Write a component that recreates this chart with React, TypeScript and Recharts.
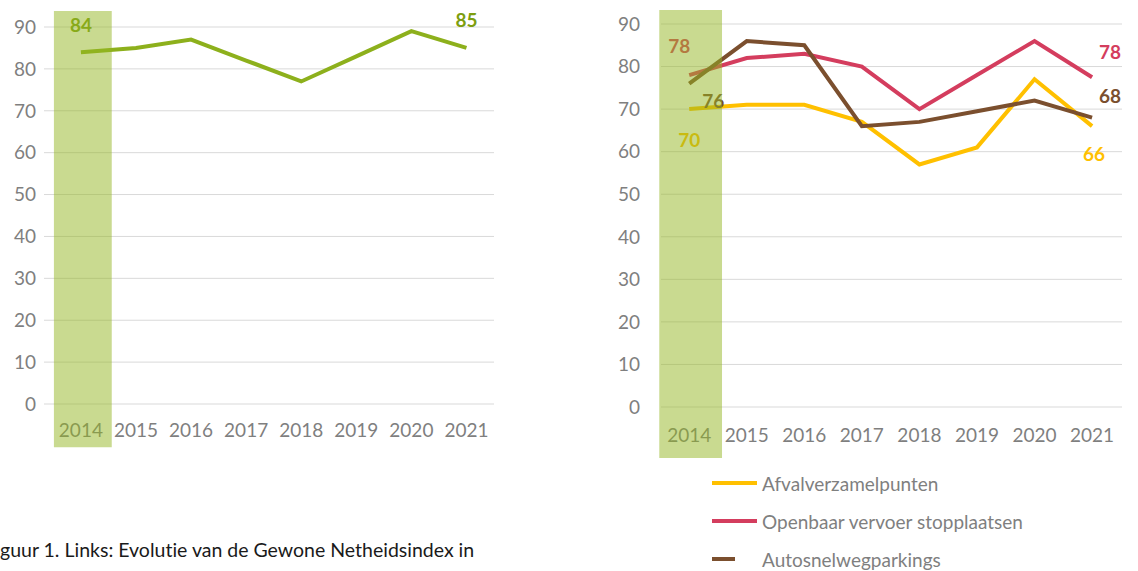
import React from "react";
import {
  LineChart,
  Line,
  XAxis,
  YAxis,
  CartesianGrid,
  ReferenceArea,
  LabelList,
  Legend,
} from "recharts";

// years on both charts
const years = [2014, 2015, 2016, 2017, 2018, 2019, 2020, 2021];
const yTicks = [0, 10, 20, 30, 40, 50, 60, 70, 80, 90];

// left: Gewone Netheidsindex
const netheidsindex = [84, 85, 87, 82, 77, 83, 89, 85];

// right: per locatietype
const afvalverzamelpunten = [70, 71, 71, 67, 57, 61, 77, 66];
const openbaarVervoer = [78, 82, 83, 80, 70, 78, 86, 77.5];
const autosnelwegparkings = [76, 86, 85, 66, 67, 69.5, 72, 68];

const highlightYear = 2014;

const leftData = years.map((year, i) => ({ year, index: netheidsindex[i] }));
const rightData = years.map((year, i) => ({
  year,
  afval: afvalverzamelpunten[i],
  ov: openbaarVervoer[i],
  parking: autosnelwegparkings[i],
}));

const FONT = "Lato, 'Open Sans', sans-serif";
const GRAY = "#7f7f7f";
const GRID = "#d9d9d9";
const HIGHLIGHT = "#93b521";

const colors = {
  green: "#8db01c",
  greenText: "#7d9e10",
  yellow: "#ffc000",
  red: "#d43d5e",
  brown: "#7b4f2e",
};

// only first and last point get a label; offsets (dx, dy) per end
const endLabel =
  (color: string, first: [number, number] | null, last: [number, number] | null) =>
  (props: any) => {
    const { x, y, value, index } = props;
    const off = index === 0 ? first : index === years.length - 1 ? last : null;
    if (!off) return null;
    return (
      <text
        x={x + off[0]}
        y={y + off[1]}
        textAnchor="middle"
        dominantBaseline="central"
        fill={color}
        fontFamily={FONT}
        fontWeight={700}
        fontSize={19}
      >
        {Math.round(value)}
      </text>
    );
  };

const tickStyle = { fontSize: 19, fill: GRAY, fontFamily: FONT };

const legendItems = [
  { name: "Afvalverzamelpunten", color: colors.yellow, w: 45, gap: 5 },
  { name: "Openbaar vervoer stopplaatsen", color: colors.red, w: 45, gap: 5 },
  { name: "Autosnelwegparkings", color: colors.brown, w: 23, gap: 27 },
];

function LegendBox() {
  return (
    <div style={{ fontFamily: FONT, fontSize: 19, color: GRAY }}>
      {legendItems.map((it) => (
        <div
          key={it.name}
          style={{ display: "flex", alignItems: "center", height: 38 }}
        >
          <span
            style={{
              display: "inline-block",
              width: it.w,
              height: 4,
              background: it.color,
              marginRight: it.gap,
            }}
          />
          {it.name}
        </div>
      ))}
    </div>
  );
}

export default function App() {
  return (
    <div
      style={{
        position: "absolute",
        left: 0,
        top: 0,
        width: 1138,
        height: 571,
        overflow: "hidden",
        background: "#fff",
      }}
    >
      <div style={{ position: "absolute", left: 0, top: 0 }}>
        <LineChart
          width={520}
          height={460}
          data={leftData}
          margin={{ top: 27, right: 26, left: 0, bottom: 26 }}
        >
          <CartesianGrid horizontal vertical={false} stroke={GRID} />
          <XAxis
            dataKey="year"
            type="number"
            domain={[2013.33, 2021.5]}
            ticks={years}
            axisLine={false}
            tickLine={false}
            tickMargin={14}
            height={30}
            tick={tickStyle}
          />
          <YAxis
            type="number"
            domain={[0, 90]}
            ticks={yTicks}
            axisLine={false}
            tickLine={false}
            width={44}
            tick={tickStyle}
          />
          <Line
            dataKey="index"
            stroke={colors.green}
            strokeWidth={4}
            dot={false}
            isAnimationActive={false}
          >
            <LabelList
              dataKey="index"
              content={endLabel(colors.greenText, [0, -28], [0, -28])}
            />
          </Line>
          <ReferenceArea
            x1={highlightYear - 0.49}
            x2={highlightYear + 0.56}
            y1={-10.3}
            y2={93.8}
            ifOverflow="visible"
            fill={HIGHLIGHT}
            fillOpacity={0.5}
            stroke="none"
            zIndex={2000}
          />
        </LineChart>
      </div>

      <div style={{ position: "absolute", left: 600, top: 0 }}>
        <LineChart
          width={538}
          height={571}
          data={rightData}
          margin={{ top: 24, right: 16, left: 0, bottom: 14 }}
        >
          <CartesianGrid horizontal vertical={false} stroke={GRID} />
          <XAxis
            dataKey="year"
            type="number"
            domain={[2013.51, 2021.52]}
            ticks={years}
            axisLine={false}
            tickLine={false}
            tickMargin={16}
            height={40}
            tick={tickStyle}
          />
          <YAxis
            type="number"
            domain={[0, 90]}
            ticks={yTicks}
            axisLine={false}
            tickLine={false}
            tickMargin={15}
            width={61}
            tick={tickStyle}
          />
          <Legend
            verticalAlign="bottom"
            height={110}
            content={() => <LegendBox />}
            wrapperStyle={{ left: 112, top: 464, width: 420 }}
          />
          <Line
            dataKey="afval"
            name="Afvalverzamelpunten"
            stroke={colors.yellow}
            strokeWidth={4}
            dot={false}
            isAnimationActive={false}
          >
            <LabelList
              dataKey="afval"
              content={endLabel(colors.yellow, [0, 30], [2, 27])}
            />
          </Line>
          <Line
            dataKey="ov"
            name="Openbaar vervoer stopplaatsen"
            stroke={colors.red}
            strokeWidth={4}
            dot={false}
            isAnimationActive={false}
          >
            <LabelList
              dataKey="ov"
              content={endLabel(colors.red, [-10, -30], [18, -26])}
            />
          </Line>
          <Line
            dataKey="parking"
            name="Autosnelwegparkings"
            stroke={colors.brown}
            strokeWidth={4}
            dot={false}
            isAnimationActive={false}
          >
            <LabelList
              dataKey="parking"
              content={endLabel(colors.brown, [24, 17], [18, -22])}
            />
          </Line>
          <ReferenceArea
            x1={highlightYear - 0.52}
            x2={highlightYear + 0.57}
            y1={-12}
            y2={93.3}
            ifOverflow="visible"
            fill={HIGHLIGHT}
            fillOpacity={0.5}
            stroke="none"
            zIndex={2000}
          />
        </LineChart>
      </div>

      <div
        style={{
          position: "absolute",
          left: 0,
          top: 538,
          fontFamily: FONT,
          fontSize: 19.5,
          color: "#1a1a1a",
          whiteSpace: "nowrap",
          fontVariantLigatures: "none",
        }}
      >
        guur 1. Links: Evolutie van de Gewone Netheidsindex in
      </div>
    </div>
  );
}
